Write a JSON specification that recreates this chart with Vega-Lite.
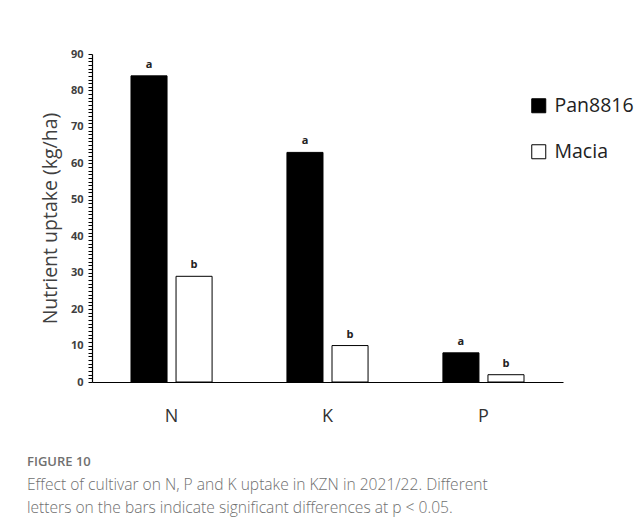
{
  "$schema": "https://vega.github.io/schema/vega-lite/v6.json",
  "autosize": "none",
  "width": 471,
  "height": 328,
  "padding": {"left": 92, "top": 54, "right": 79, "bottom": 148},
  "background": "white",
  "data": {
    "values": [
      {"nutrient": "N", "cultivar": "Pan8816", "uptake": 84, "letter": "a"},
      {"nutrient": "N", "cultivar": "Macia", "uptake": 29, "letter": "b"},
      {"nutrient": "K", "cultivar": "Pan8816", "uptake": 63, "letter": "a"},
      {"nutrient": "K", "cultivar": "Macia", "uptake": 10, "letter": "b"},
      {"nutrient": "P", "cultivar": "Pan8816", "uptake": 8, "letter": "a"},
      {"nutrient": "P", "cultivar": "Macia", "uptake": 2, "letter": "b"}
    ]
  },
  "title": {
    "text": "FIGURE 10",
    "subtitle": [
      "Effect of cultivar on N, P and K uptake in KZN in 2021/22. Different",
      "letters on the bars indicate significant differences at p < 0.05."
    ],
    "orient": "bottom",
    "anchor": "start",
    "frame": "group",
    "dx": -65,
    "offset": 31,
    "font": "Open Sans",
    "fontSize": 13,
    "fontWeight": 600,
    "color": "#707070",
    "subtitleFont": "Open Sans",
    "subtitleFontSize": 15.6,
    "subtitleFontWeight": 300,
    "subtitleColor": "#6f6f6f",
    "subtitlePadding": 9,
    "subtitleLineHeight": 23
  },
  "encoding": {
    "x": {
      "field": "nutrient",
      "type": "nominal",
      "sort": ["N", "K", "P"],
      "scale": {"paddingInner": 0.48, "paddingOuter": 0.25},
      "axis": {
        "title": null,
        "labelAngle": 0,
        "labelFont": "Open Sans",
        "labelFontSize": 18,
        "labelColor": "#333333",
        "labelPadding": 25,
        "ticks": false,
        "domainColor": "#000000",
        "domainWidth": 1.2
      }
    },
    "xOffset": {
      "field": "cultivar",
      "type": "nominal",
      "sort": ["Pan8816", "Macia"],
      "scale": {"paddingInner": 0.2, "paddingOuter": 0}
    }
  },
  "layer": [
    {
      "mark": {"type": "bar", "stroke": "#000000", "strokeWidth": 1},
      "encoding": {
        "y": {
          "field": "uptake",
          "type": "quantitative",
          "scale": {"domain": [0, 90], "nice": false},
          "axis": {
            "title": "Nutrient uptake (kg/ha)",
            "titleFont": "Open Sans",
            "titleFontSize": 19.5,
            "titleFontWeight": "normal",
            "titleColor": "#404040",
            "titlePadding": 10,
            "tickCount": 90,
            "labelExpr": "datum.value % 10 === 0 ? datum.label : ''",
            "labelOverlap": false,
            "labelFont": "Open Sans",
            "labelFontSize": 11,
            "labelFontWeight": "bold",
            "labelColor": "#404040",
            "labelPadding": 5,
            "tickSize": 4,
            "tickWidth": 1,
            "tickColor": "#000000",
            "domainColor": "#000000",
            "domainWidth": 1.2,
            "grid": false
          }
        },
        "color": {
          "field": "cultivar",
          "type": "nominal",
          "sort": ["Pan8816", "Macia"],
          "scale": {"range": ["#000000", "#ffffff"]},
          "legend": {
            "title": null,
            "orient": "none",
            "legendX": 437,
            "legendY": 42,
            "symbolType": "square",
            "symbolSize": 196,
            "symbolStrokeColor": "#000000",
            "symbolStrokeWidth": 1,
            "labelFont": "Open Sans",
            "labelFontSize": 19.5,
            "labelColor": "#222222",
            "labelOffset": 6,
            "rowPadding": 25
          }
        }
      }
    },
    {
      "mark": {"type": "text", "dy": -11, "font": "Open Sans", "fontSize": 11, "fontWeight": "bold", "color": "#222222"},
      "encoding": {
        "y": {"field": "uptake", "type": "quantitative"},
        "text": {"field": "letter"}
      }
    }
  ],
  "config": {
    "view": {"stroke": null}
  }
}
